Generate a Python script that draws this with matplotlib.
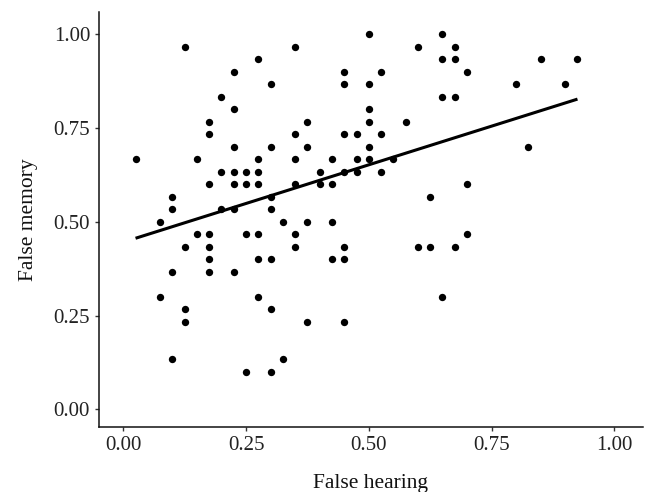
import matplotlib
matplotlib.use('Agg')
import matplotlib.pyplot as plt
import numpy as np

# false hearing (x) and false memory (y), one point per participant
hearing = [0.125, 0.35, 0.5, 0.275, 0.225, 0.45, 0.525, 0.3, 0.45, 0.5,
           0.2, 0.225, 0.5, 0.175, 0.375, 0.5, 0.175, 0.35, 0.45, 0.475,
           0.525, 0.225, 0.3, 0.375, 0.5, 0.025, 0.15, 0.275, 0.35, 0.425,
           0.475, 0.5, 0.2, 0.225, 0.25, 0.275, 0.4, 0.45, 0.475, 0.525,
           0.175, 0.225, 0.25, 0.275, 0.35, 0.4, 0.425, 0.1, 0.3, 0.1,
           0.2, 0.225, 0.3, 0.075, 0.325, 0.375, 0.425, 0.15, 0.175, 0.25,
           0.275, 0.35, 0.125, 0.175, 0.35, 0.45,
           0.65, 0.6, 0.675, 0.65, 0.675, 0.85, 0.925, 0.7, 0.8, 0.9,
           0.65, 0.675, 0.575, 0.825, 0.55, 0.7, 0.625, 0.7, 0.6, 0.625,
           0.675,
           0.175, 0.275, 0.3, 0.425, 0.45, 0.1, 0.175, 0.225, 0.075, 0.275,
           0.125, 0.3, 0.125, 0.375, 0.45, 0.1, 0.325, 0.25, 0.3, 0.65]
memory = [0.967, 0.967, 1.0, 0.933, 0.9, 0.9, 0.9, 0.867, 0.867, 0.867,
          0.833, 0.8, 0.8, 0.767, 0.767, 0.767, 0.733, 0.733, 0.733, 0.733,
          0.733, 0.7, 0.7, 0.7, 0.7, 0.667, 0.667, 0.667, 0.667, 0.667,
          0.667, 0.667, 0.633, 0.633, 0.633, 0.633, 0.633, 0.633, 0.633, 0.633,
          0.6, 0.6, 0.6, 0.6, 0.6, 0.6, 0.6, 0.567, 0.567, 0.533,
          0.533, 0.533, 0.533, 0.5, 0.5, 0.5, 0.5, 0.467, 0.467, 0.467,
          0.467, 0.467, 0.433, 0.433, 0.433, 0.433,
          1.0, 0.967, 0.967, 0.933, 0.933, 0.933, 0.933, 0.9, 0.867, 0.867,
          0.833, 0.833, 0.767, 0.7, 0.667, 0.6, 0.567, 0.467, 0.433, 0.433,
          0.433,
          0.4, 0.4, 0.4, 0.4, 0.4, 0.367, 0.367, 0.367, 0.3, 0.3,
          0.267, 0.267, 0.233, 0.233, 0.233, 0.133, 0.133, 0.1, 0.1, 0.3]
# fitted line as drawn in the source (ends)
fit_x = [0.025, 0.925]
fit_y = [0.456, 0.827]
ticks = [0.0, 0.25, 0.5, 0.75, 1.0]
tick_labels = ['0.00', '0.25', '0.50', '0.75', '1.00']

plt.rcParams['font.family'] = ['Liberation Serif', 'DejaVu Serif']

fig = plt.figure(figsize=(6.49, 4.92), dpi=100)
ax = fig.add_axes([0.1521, 0.1315, 0.8387, 0.8447])
ax.scatter(hearing, memory, s=28, color='black', linewidths=0, zorder=3)
ax.plot(fit_x, fit_y, color='black', lw=2.2, solid_capstyle='butt', zorder=2)

ax.set_xlim(-0.05, 1.0585)
ax.set_ylim(-0.048, 1.06)
ax.set_xticks(ticks)
ax.set_xticklabels(tick_labels)
ax.set_yticks(ticks)
ax.set_yticklabels(tick_labels)
ax.spines['top'].set_visible(False)
ax.spines['right'].set_visible(False)
for s in ['left', 'bottom']:
    ax.spines[s].set_linewidth(1.1)
    ax.spines[s].set_color('#111111')
ax.tick_params(length=3.2, width=1.0, color='#333333', labelcolor='#222222',
               labelsize=15, pad=3)
ax.set_xlabel('False hearing', fontsize=15.5, labelpad=13.5, color='#111111')
ax.set_ylabel('False memory', fontsize=15.5, labelpad=11.5, color='#111111')

fig.savefig('out.png', dpi=100)
